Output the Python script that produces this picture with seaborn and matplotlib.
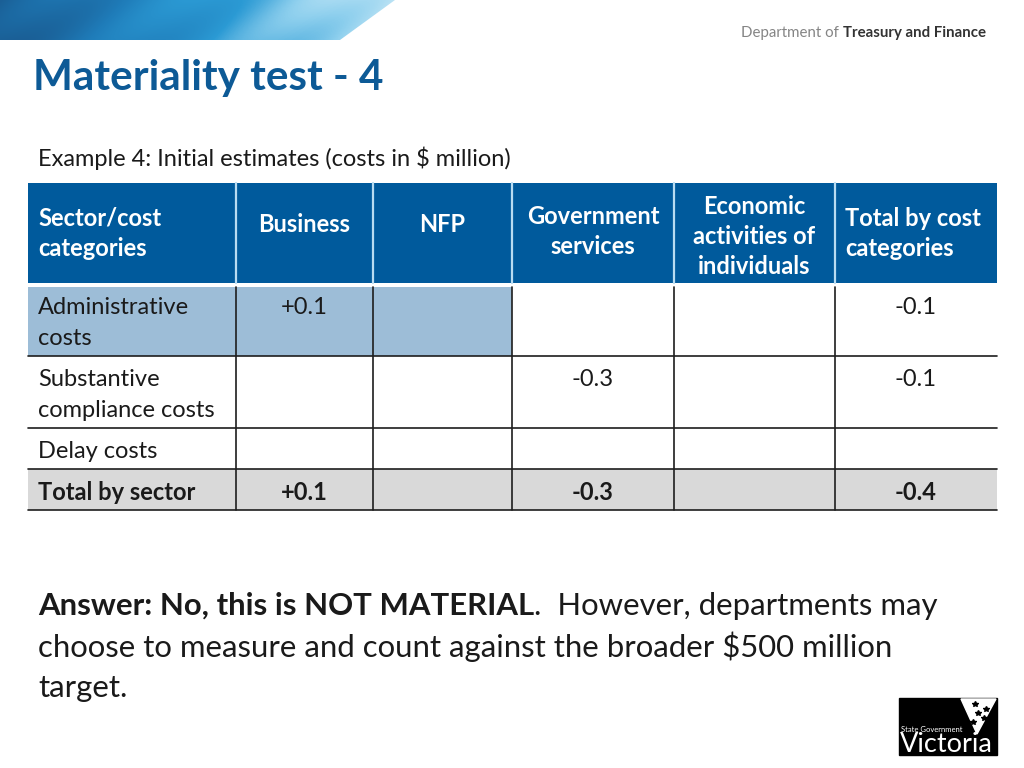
import numpy as np
import pandas as pd
import matplotlib.pyplot as plt
import seaborn as sns
from matplotlib.patches import Polygon, Rectangle
from matplotlib.colors import LinearSegmentedColormap

# table content
header_labels = ["Sector/cost\ncategories", "Business", "NFP", "Government\nservices",
                 "Economic\nactivities of\nindividuals", "Total by cost\ncategories"]
row_labels = ["Administrative\ncosts", "Substantive\ncompliance costs", "Delay costs", "Total by sector"]
business = ["+0.1", "", "", "+0.1"]
nfp = ["", "", "", ""]
government = ["", "-0.3", "", "-0.3"]
individuals = ["", "", "", ""]
total_by_cost = ["-0.1", "-0.1", "", "-0.4"]

table = pd.DataFrame({"label": row_labels, "Business": business, "NFP": nfp,
                      "Government": government, "Individuals": individuals,
                      "Total": total_by_cost})

# layout (pixels)
col_edges = [28, 236, 373, 512, 674, 835, 997]
header_top, header_bottom = 183, 283
header_first_y = [218, 224, 224, 216, 206, 218]
row_edges = [287, 356, 428, 469, 510]
row_first_y = [308, 380, 452, 493]

header_blue = "#005a9c"
title_blue = "#0d5a96"
admin_blue = "#9dbdd7"
total_grey = "#d9d9d9"
line_col = "#1e1e1e"

sns.set_theme(style="white")
plt.rcParams["font.family"] = ["Lato", "DejaVu Sans"]

fig = plt.figure(figsize=(10.24, 7.68), dpi=100)
ax = fig.add_axes([0, 0, 1, 1])
ax.set_xlim(0, 1024)
ax.set_ylim(768, 0)
ax.axis("off")

# top banner
cmap = LinearSegmentedColormap.from_list("banner", ["#1a5f96", "#1f7cb9", "#2b9ad4", "#8fd0ee", "#e8f6fc"])
xx, yy = np.meshgrid(np.linspace(0, 400, 400), np.linspace(0, 40, 40))
shade = xx / 400 + 0.07 * np.sin((xx + yy * 1.6) / 22.0)
img = ax.imshow(shade, extent=[0, 400, 40, 0], cmap=cmap, aspect="auto", zorder=1)
clip = Polygon([(0, 0), (395, 0), (340, 40), (0, 40)], closed=True, transform=ax.transData)
img.set_clip_path(clip)

ax.text(33, 78, "Materiality test - 4", fontsize=30.4, fontweight="bold", color=title_blue,
        va="center", ha="left")

ax.text(38, 158, "Example 4: Initial estimates (costs in $ million)", fontsize=17,
        color="#1a1a1a", va="center", ha="left")

# header fill
ax.bar(col_edges[0], header_bottom - header_top, width=col_edges[-1] - col_edges[0],
       bottom=header_top, align="edge", color=header_blue, linewidth=0, zorder=2)
# body fills
ax.bar(col_edges[0], row_edges[1] - row_edges[0], width=col_edges[3] - col_edges[0],
       bottom=row_edges[0], align="edge", color=admin_blue, linewidth=0, zorder=2)
ax.bar(col_edges[0], row_edges[4] - row_edges[3], width=col_edges[-1] - col_edges[0],
       bottom=row_edges[3], align="edge", color=total_grey, linewidth=0, zorder=2)

# grid lines
for x in col_edges[1:-1]:
    ax.plot([x, x], [header_top, header_bottom], color="#b9dcf2", lw=1.6, zorder=3)
    ax.plot([x, x], [row_edges[0], row_edges[-1]], color=line_col, lw=1.2, zorder=3)
for y in row_edges[1:]:
    ax.plot([col_edges[0], col_edges[-1]], [y, y], color=line_col, lw=1.2, zorder=3)

pitch = 30.5
fs = 17

# header text
for i, lab in enumerate(header_labels):
    if i in (0, 5):
        x = col_edges[i] + 10
        ha = "left"
    else:
        x = (col_edges[i] + col_edges[i + 1]) / 2
        ha = "center"
    for k, ln in enumerate(lab.split("\n")):
        ax.text(x, header_first_y[i] + k * pitch, ln, color="white", fontsize=fs,
                fontweight="bold", ha=ha, va="center", zorder=4)

# body text
value_cols = ["Business", "NFP", "Government", "Individuals", "Total"]
for r in range(len(table)):
    bold = r == len(table) - 1
    first_y = row_first_y[r]
    for k, ln in enumerate(table.loc[r, "label"].split("\n")):
        ax.text(col_edges[0] + 10, first_y + k * pitch, ln, color="#1a1a1a", fontsize=fs,
                fontweight="bold" if bold else "normal", ha="left", va="center", zorder=4)
    for c, name in enumerate(value_cols):
        val = table.loc[r, name]
        if val:
            x = (col_edges[c + 1] + col_edges[c + 2]) / 2
            ax.text(x, first_y, val, color="#1a1a1a", fontsize=fs,
                    fontweight="bold" if bold else "normal", ha="center", va="center", zorder=4)

# answer paragraph
fig.canvas.draw()
renderer = fig.canvas.get_renderer()
ans_fs = 22.4
t1 = ax.text(38, 606, "Answer: No, this is NOT MATERIAL", fontsize=ans_fs, fontweight="bold",
             color="#1a1a1a", ha="left", va="center")
bb = t1.get_window_extent(renderer)
ax.text(bb.x1, 606, ".  However, departments may", fontsize=ans_fs, color="#1a1a1a",
        ha="left", va="center")
ax.text(38, 647, "choose to measure and count against the broader $500 million", fontsize=ans_fs,
        color="#1a1a1a", ha="left", va="center")
ax.text(38, 688, "target.", fontsize=ans_fs, color="#1a1a1a", ha="left", va="center")

# department header
d1 = ax.text(741, 33, "Department of ", fontsize=10.8, color="#858585", ha="left", va="center")
bb = d1.get_window_extent(renderer)
ax.text(bb.x1, 33, "Treasury and Finance", fontsize=10.8, color="#333333", ha="left",
        va="center", fontweight="bold")

# Victoria logo
ax.add_patch(Rectangle((899, 698), 98, 57, color="black", zorder=2))
ax.add_patch(Polygon([(961, 699), (996, 699), (977, 734)], closed=True, color="white", zorder=3))
for sx, sy in [(975, 704), (986, 709), (978, 713), (984, 718), (973, 722)]:
    ax.plot(sx, sy, marker="*", color="black", ms=4, zorder=4)
ax.text(901, 729, "State Government", fontsize=5.5, color="white", ha="left", va="center", zorder=4)
ax.text(900, 744, "Victoria", fontsize=19.5, color="white", ha="left", va="center", zorder=4)

fig.savefig("out.png", dpi=100)
